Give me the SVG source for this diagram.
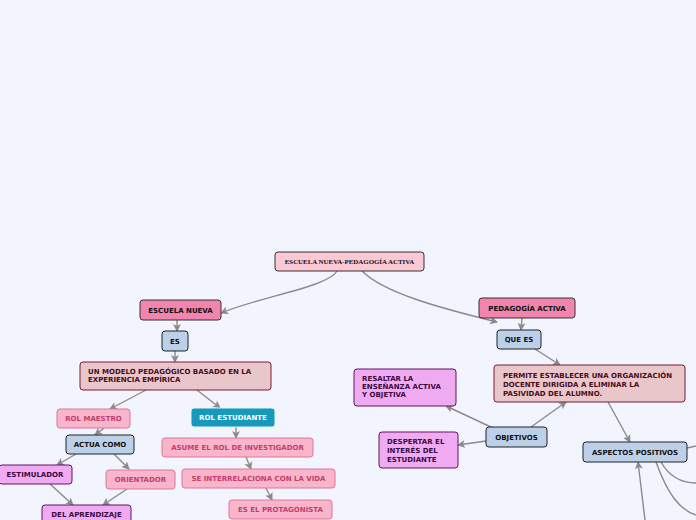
<svg xmlns="http://www.w3.org/2000/svg" width="696" height="520" viewBox="0 0 696 520">
<defs>
<marker id="ar" markerWidth="8" markerHeight="8" refX="7" refY="4" orient="auto" markerUnits="userSpaceOnUse">
<path d="M0,0 L8,4 L0,8 L2,4 Z" fill="#8a8a8a"/>
</marker>
<style>
.c{fill:none;stroke:#8a8a8a;stroke-width:1.4;marker-end:url(#ar)}
.cn{fill:none;stroke:#8a8a8a;stroke-width:1.4}
.t{font-family:"DejaVu Sans",Verdana,sans-serif;font-weight:bold;font-size:7px}
.blue rect{fill:#bcd0ea;stroke:#222;stroke-width:1}
.blue text{fill:#111}
.hot rect{fill:#f285ad;stroke:#333;stroke-width:1}
.hot text{fill:#111}
.soft rect{fill:#f9b6cb;stroke:#e0739a;stroke-width:1}
.soft text{fill:#c23d6e}
.mar rect{fill:#e8c6ca;stroke:#7a1a30;stroke-width:1}
.mar text{fill:#4a0b1c}
.vio rect{fill:#f0aaf2;stroke:#5e1560;stroke-width:1}
.vio text{fill:#3a0b3c}
.teal rect{fill:#1798bd;stroke:#e8f2f8;stroke-width:1}
.teal text{fill:#fff}
</style>
</defs>
<rect width="696" height="520" fill="#f3f5fe"/>
<g id="connectors">
<path class="c" d="M337,271 C328,287 262,296 221,313"/>
<path class="c" d="M362,271 C384,293 440,308 497,322"/>
<path class="c" d="M177,320 L177,331"/>
<path class="c" d="M175,351 L175,362"/>
<path class="c" d="M146,390 L110,409"/>
<path class="c" d="M197,390 L220,408"/>
<path class="c" d="M104,428 L95,435"/>
<path class="c" d="M76,454 L57,465"/>
<path class="c" d="M114,454 L129,469"/>
<path class="c" d="M50,484 L73,505"/>
<path class="c" d="M127,489 L103,505"/>
<path class="c" d="M236,427 L236,438"/>
<path class="c" d="M246,457 L251,469"/>
<path class="c" d="M266,488 L272,500"/>
<path class="c" d="M522,318 L521,330"/>
<path class="c" d="M535,349 L560,365"/>
<path class="c" d="M608,402 L630,442"/>
<path class="c" d="M531,427 L566,402"/>
<path class="c" d="M493,428 L446,406"/>
<path class="c" d="M486,441 L458,445"/>
<path class="c" d="M645,520 L638,462"/>
<path class="cn" d="M687,448 L696,446"/>
<path class="cn" d="M661,462 C670,478 684,483 696,483"/>
<path class="cn" d="M656,462 C668,495 680,510 696,515"/>
</g>
<g id="root"><rect x="275" y="252" width="149" height="19" rx="3" fill="#fbc8d4" stroke="#333" stroke-width="1"/>
<text x="349.5" y="264" text-anchor="middle" font-family="'Liberation Serif',serif" font-weight="bold" font-size="6.9" fill="#111">ESCUELA NUEVA-PEDAGOGÍA ACTIVA</text></g>
<g id="escuela" class="hot"><rect x="140" y="300" width="81" height="20" rx="3"/><text class="t" x="180.5" y="313" text-anchor="middle">ESCUELA NUEVA</text></g>
<g id="es" class="blue"><rect x="162" y="331" width="26" height="20" rx="3"/><text class="t" x="175" y="344" text-anchor="middle">ES</text></g>
<g id="modelo" class="mar"><rect x="80" y="362" width="191" height="28" rx="3"/><text class="t" x="88" y="374">UN MODELO PEDAGÓGICO BASADO EN LA</text><text class="t" x="88" y="382">EXPERIENCIA EMPÍRICA</text></g>
<g id="maestro" class="soft"><rect x="57" y="409" width="73" height="19" rx="3"/><text class="t" x="93.5" y="421" text-anchor="middle">ROL MAESTRO</text></g>
<g id="estudiante" class="teal"><rect x="191" y="408" width="84" height="19" rx="3"/><text class="t" x="233" y="420" text-anchor="middle">ROL ESTUDIANTE</text></g>
<g id="actua" class="blue"><rect x="66" y="435" width="68" height="19" rx="3"/><text class="t" x="100" y="447" text-anchor="middle">ACTUA COMO</text></g>
<g id="estimulador" class="vio"><rect x="-1" y="465" width="73" height="19" rx="3"/><text class="t" x="35" y="477" text-anchor="middle">ESTIMULADOR</text></g>
<g id="orientador" class="soft"><rect x="106" y="470" width="69" height="19" rx="3"/><text class="t" x="140.5" y="482" text-anchor="middle">ORIENTADOR</text></g>
<g id="aprendizaje" class="vio"><rect x="42" y="505" width="89" height="20" rx="3"/><text class="t" x="86.5" y="517" text-anchor="middle">DEL APRENDIZAJE</text></g>
<g id="asume" class="soft"><rect x="162" y="438" width="151" height="19" rx="3"/><text class="t" x="237.5" y="450" text-anchor="middle">ASUME EL ROL DE INVESTIGADOR</text></g>
<g id="interrelaciona" class="soft"><rect x="182" y="469" width="153" height="19" rx="3"/><text class="t" x="258.5" y="481" text-anchor="middle">SE INTERRELACIONA CON LA VIDA</text></g>
<g id="protagonista" class="soft"><rect x="229" y="500" width="103" height="19" rx="3"/><text class="t" x="280.5" y="512" text-anchor="middle">ES EL PROTAGONISTA</text></g>
<g id="pedagogia" class="hot"><rect x="479" y="298" width="96" height="20" rx="3"/><text class="t" x="527" y="311" text-anchor="middle">PEDAGOGÍA ACTIVA</text></g>
<g id="quees" class="blue"><rect x="497" y="330" width="44" height="19" rx="3"/><text class="t" x="519" y="342" text-anchor="middle">QUE ES</text></g>
<g id="permite" class="mar"><rect x="494" y="365" width="191" height="37" rx="3"/><text class="t" x="503" y="378">PERMITE ESTABLECER UNA ORGANIZACIÓN</text><text class="t" x="503" y="387">DOCENTE DIRIGIDA A ELIMINAR LA</text><text class="t" x="503" y="396">PASIVIDAD DEL ALUMNO.</text></g>
<g id="resaltar" class="vio"><rect x="354" y="369" width="102" height="37" rx="3"/><text class="t" x="362" y="381">RESALTAR LA</text><text class="t" x="362" y="389">ENSEÑANZA ACTIVA</text><text class="t" x="362" y="397">Y OBJETIVA</text></g>
<g id="despertar" class="vio"><rect x="379" y="432" width="79" height="36" rx="3"/><text class="t" x="387" y="444">DESPERTAR EL</text><text class="t" x="387" y="453">INTERÉS DEL</text><text class="t" x="387" y="462">ESTUDIANTE</text></g>
<g id="objetivos" class="blue"><rect x="486" y="427" width="61" height="20" rx="3"/><text class="t" x="516.5" y="440" text-anchor="middle">OBJETIVOS</text></g>
<g id="aspectos" class="blue"><rect x="583" y="442" width="104" height="20" rx="3"/><text class="t" x="635" y="455" text-anchor="middle">ASPECTOS POSITIVOS</text></g>
</svg>
